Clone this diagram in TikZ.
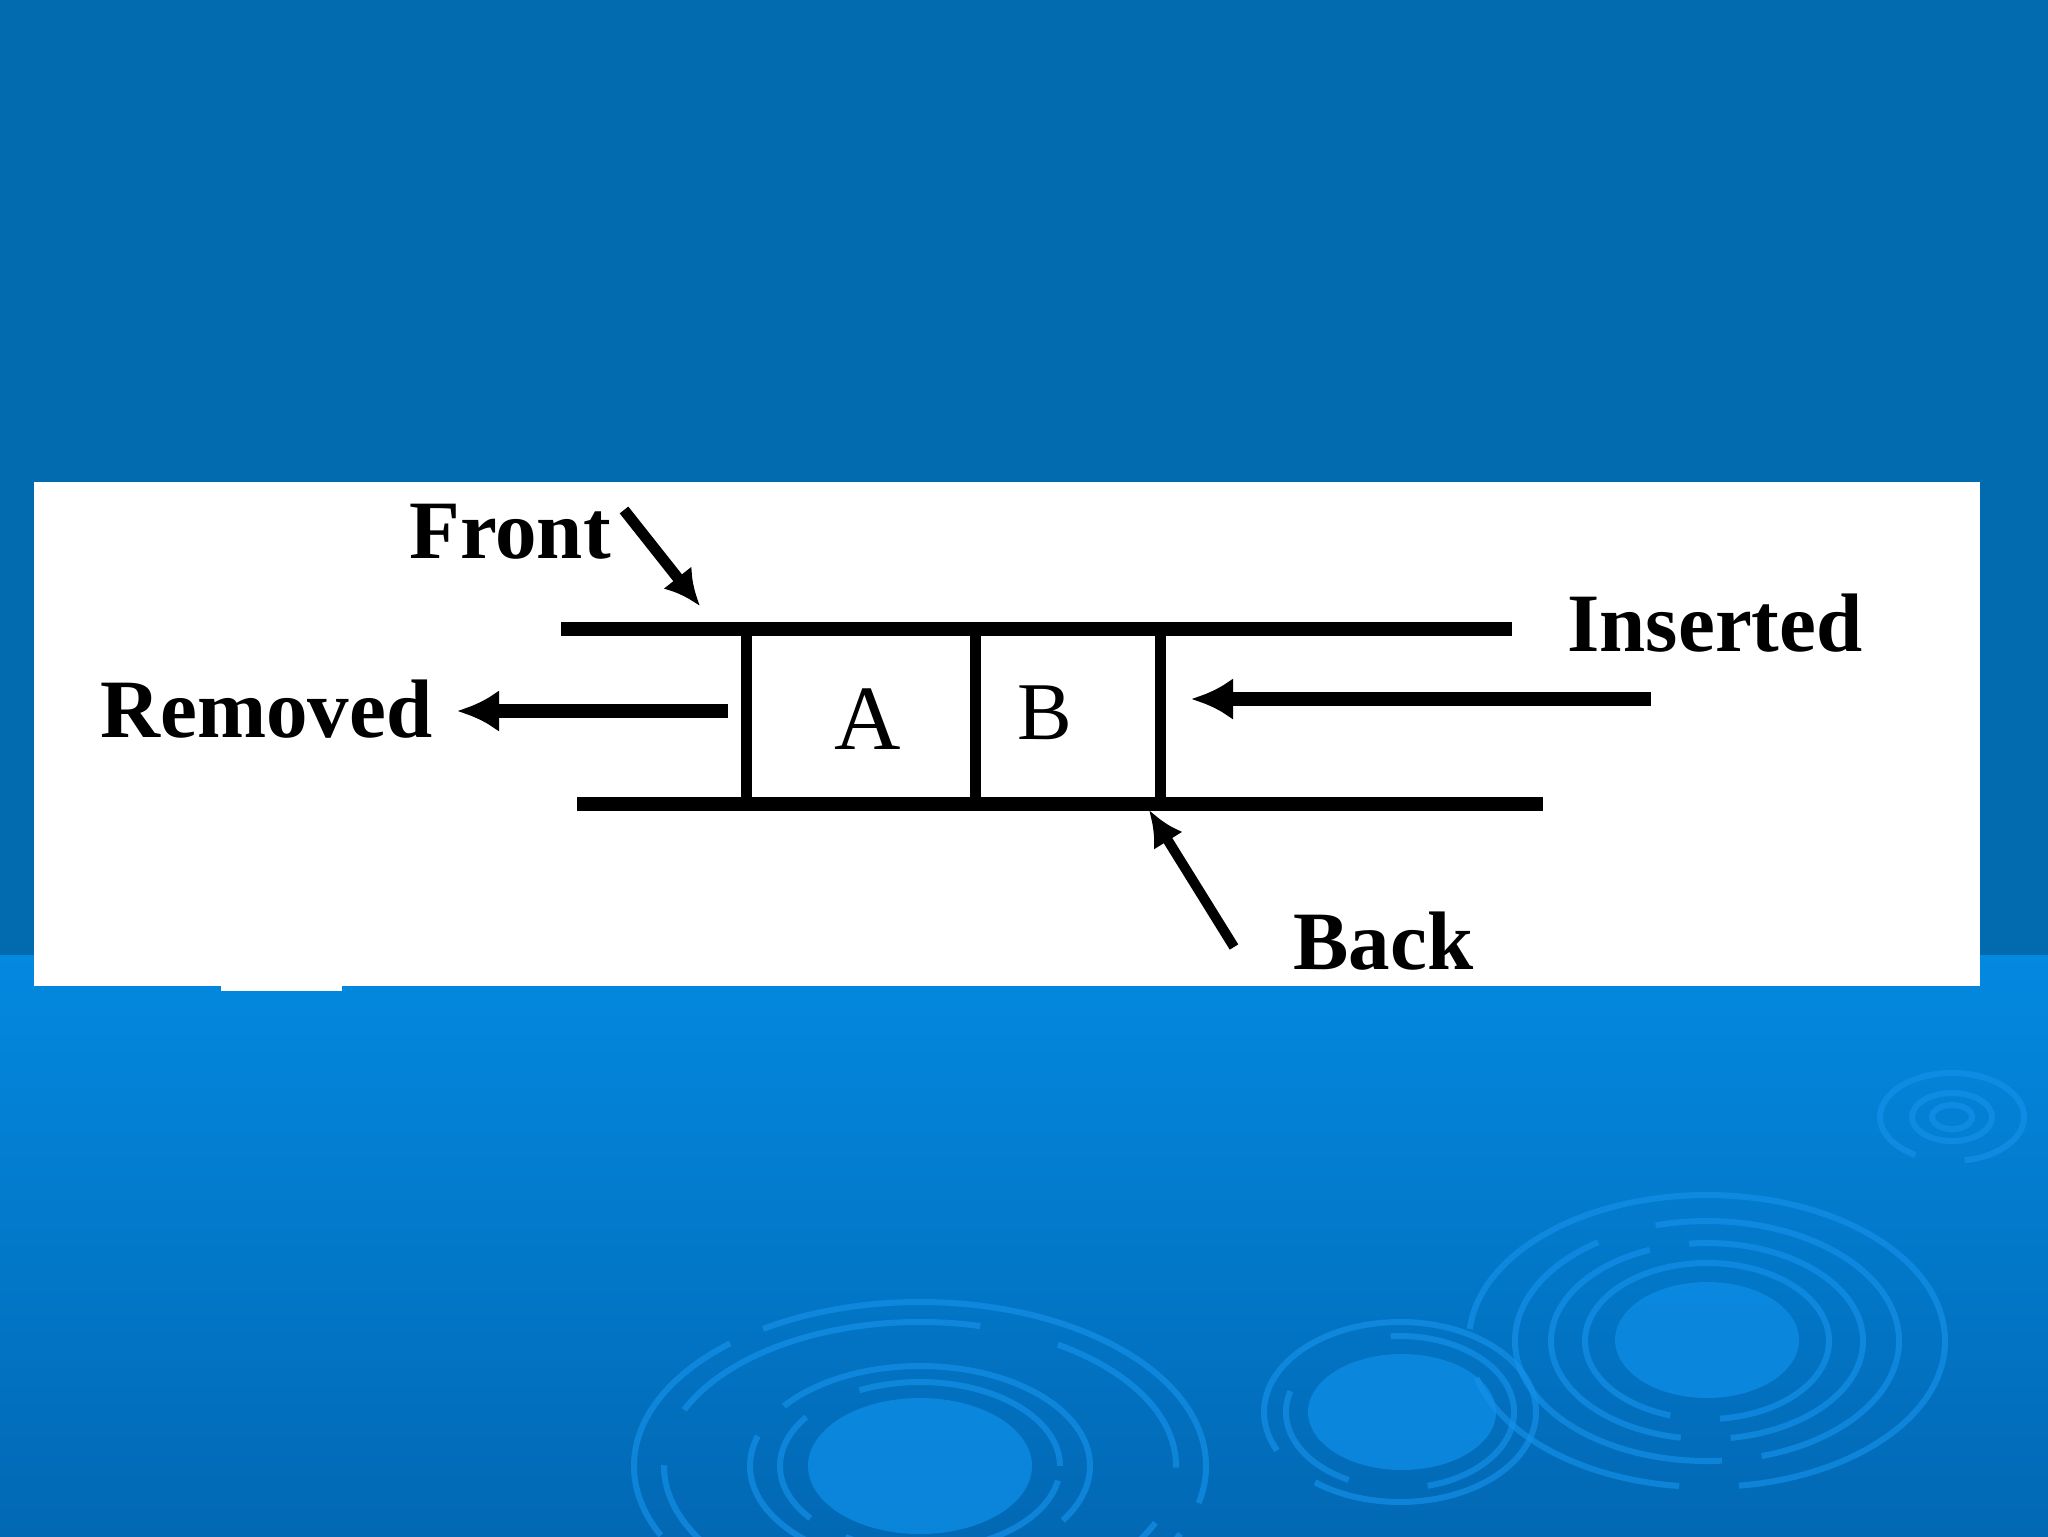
\documentclass[tikz,border=0pt]{standalone}
\usepackage{fontspec}
\setmainfont{Liberation Serif}
\usetikzlibrary{arrows.meta}
\definecolor{bgtop}{HTML}{026AAE}
\definecolor{bglowA}{HTML}{0389E0}
\definecolor{bglowB}{HTML}{0268B4}
\definecolor{ripple}{HTML}{1592EA}
\definecolor{ripfill}{HTML}{0D8CE4}
\begin{document}
\begin{tikzpicture}[x=0.5pt,y=-0.5pt,
  rail/.style={line width=7pt},
  wall/.style={line width=5.5pt},
  bigarrow/.style={line width=7pt,-{Latex[length=21pt,width=21pt]}},
  smallarrow/.style={line width=5.5pt,-{Latex[length=18pt,width=18pt]}},
  lbl/.style={font=\fontsize{41.5}{48}\selectfont\bfseries, inner sep=0pt, anchor=base west},
  cell/.style={inner sep=0pt, anchor=base},
  ring/.style={draw=ripple, line width=3pt, opacity=0.65},
  blob/.style={fill=ripfill, opacity=0.8}]
\useasboundingbox (0,0) rectangle (2048,1536);
% background
\fill[bgtop] (0,0) rectangle (2048,956);
\shade[top color=bglowA,bottom color=bglowB] (0,955) rectangle (2048,1536);
% ripples
\begin{scope}
\clip (0,955) rectangle (2048,1536);
% group 1
\fill[blob] (920,1466) ellipse [x radius=56pt, y radius=34pt];
\draw[ring,dash pattern=on 260pt off 18pt on 120pt off 25pt] (920,1466) ellipse [x radius=143pt, y radius=82pt];
\draw[ring,dash pattern=on 90pt off 40pt on 160pt off 30pt] (920,1466) ellipse [x radius=128pt, y radius=72pt];
\draw[ring,dash pattern=on 180pt off 20pt] (920,1466) ellipse [x radius=85pt, y radius=50pt];
\draw[ring,dash pattern=on 120pt off 30pt on 60pt off 20pt] (920,1466) ellipse [x radius=70pt, y radius=42pt];
% group 2
\fill[blob] (1402,1412) ellipse [x radius=47pt, y radius=29pt];
\draw[ring,dash pattern=on 200pt off 25pt] (1400,1412) ellipse [x radius=68pt, y radius=45pt];
\draw[ring,dash pattern=on 80pt off 60pt on 60pt off 40pt] (1400,1412) ellipse [x radius=57pt, y radius=38pt];
% group 3
\fill[blob] (1707,1340) ellipse [x radius=46pt, y radius=29pt];
\draw[ring,dash pattern=on 300pt off 25pt on 120pt off 30pt] (1707,1341) ellipse [x radius=119pt, y radius=73pt];
\draw[ring,dash pattern=on 150pt off 30pt on 200pt off 20pt] (1707,1341) ellipse [x radius=96pt, y radius=60pt];
\draw[ring,dash pattern=on 110pt off 20pt on 160pt off 25pt] (1707,1341) ellipse [x radius=78pt, y radius=49pt];
\draw[ring,dash pattern=on 220pt off 25pt] (1707,1341) ellipse [x radius=61pt, y radius=39pt];
% group 4
\draw[ring,dash pattern=on 120pt off 25pt] (1952,1117) ellipse [x radius=36pt, y radius=22pt];
\draw[ring] (1952,1117) ellipse [x radius=20pt, y radius=12pt];
\draw[ring] (1952,1117) ellipse [x radius=10pt, y radius=6pt];
\end{scope}
% white panel
\fill[white] (34,482) rectangle (1980,986);
\fill[white] (221,985) rectangle (342,991);
% rails and walls
\coordinate (tl) at (561,629);
\coordinate (tr) at (1512,629);
\coordinate (bl) at (577,804);
\coordinate (br) at (1543,804);
\coordinate (w1t) at (746,629);
\coordinate (w1b) at (746,804);
\coordinate (w2t) at (975,629);
\coordinate (w2b) at (975,804);
\coordinate (w3t) at (1160,629);
\coordinate (w3b) at (1160,804);
\draw[wall] (w1t) -- (w1b);
\draw[wall] (w2t) -- (w2b);
\draw[wall] (w3t) -- (w3b);
\draw[rail] (tl) -- (tr);
\draw[rail] (bl) -- (br);
% cell contents
\node[cell, font=\fontsize{46}{52}\selectfont] (a) at (868,749) {A};
\node[cell, font=\fontsize{41}{48}\selectfont] (b) at (1045,739) {B};
% labels
\node[lbl] (front) at (409,558) {Front};
\node[lbl] (removed) at (100,737) {Removed};
\node[lbl] (inserted) at (1567,651) {Inserted};
\node[lbl] (back) at (1293,969) {Back};
% arrows
\coordinate (rmS) at (728,711);
\coordinate (rmT) at (457,711);
\coordinate (inS) at (1651,699);
\coordinate (inT) at (1191,699);
\coordinate (frS) at (624,510);
\coordinate (frT) at (700,606);
\coordinate (bkS) at (1234,947);
\coordinate (bkT) at (1149,810);
\draw[bigarrow] (rmS) -- (rmT);
\draw[bigarrow] (inS) -- (inT);
\draw[smallarrow] (frS) -- (frT);
\draw[line width=5pt,-{Latex[length=18pt,width=17pt]}] (bkS) -- (bkT);
\end{tikzpicture}
\end{document}
